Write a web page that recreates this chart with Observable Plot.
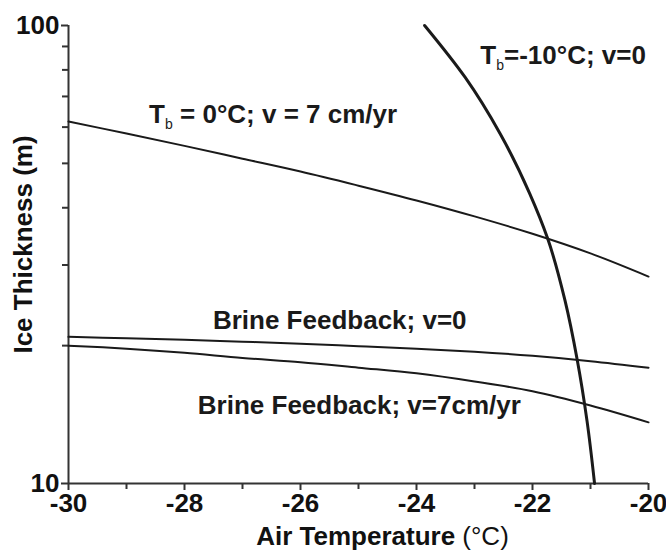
<!DOCTYPE html>
<html><head><meta charset="utf-8">
<script src="https://cdn.jsdelivr.net/npm/d3@7"></script>
<script src="https://cdn.jsdelivr.net/npm/@observablehq/plot@0.6"></script>
<style>body{margin:0;background:#fff}</style>
</head><body><div id="chart"></div>
<script>
// ---- data ----
const temps = [-30, -29, -28, -27, -26, -25, -24, -23, -22, -21, -20];
const thickTb0v7 = [61.7, 58.1, 54.6, 51.2, 48.0, 44.7, 41.5, 38.3, 35.1, 31.8, 28.3];
const thickBrineV0 = [20.9, 20.75, 20.6, 20.4, 20.2, 19.95, 19.7, 19.4, 19.0, 18.5, 17.9];
const thickBrineV7 = [20.0, 19.7, 19.3, 18.8, 18.4, 17.9, 17.4, 16.7, 15.9, 14.8, 13.6];
const tbm10Temps = [-23.86, -23.16, -22.56, -22.05, -21.74, -21.44, -21.23, -21.06, -20.93];
const tbm10Thick = [100, 77, 58.1, 43.0, 34.3, 25.1, 18.65, 13.7, 10];

const xMajorTicks = [-30, -28, -26, -24, -22, -20];
const xMinorTicks = [-29, -27, -25, -23, -21];
const yMajorTicks = [10, 100];
const yMinorTicks = [20, 30, 40, 50, 60, 70, 80, 90];

const labelText = ["T_b=-10°C; v=0", "T_b = 0°C; v = 7 cm/yr", "Brine Feedback; v=0", "Brine Feedback; v=7cm/yr"];
const labelTemp = [-22.90, -28.61, -27.51, -27.77];
const labelThick = [82.6, 61.1, 21.7, 14.15];

const xTitle = "Air Temperature (°C)";
const yTitle = "Ice Thickness (m)";

// ---- build tables ----
const toRows = (xs, ys) => xs.map((x, i) => ({x, y: ys[i]}));
const labels = labelText.map((t, i) => ({t, x: labelTemp[i], y: labelThick[i]}));
const font = "'Liberation Sans', Arial, sans-serif";
const ink = "#1a1a1a";
const axisInk = "#333";

const plot = Plot.plot({
  width: 666, height: 550,
  marginLeft: 68, marginRight: 18, marginTop: 25, marginBottom: 67,
  style: {fontFamily: font, background: "#fff", color: ink, overflow: "visible"},
  x: {domain: [-30, -20]},
  y: {type: "log", domain: [10, 100]},
  marks: [
    Plot.axisX({ticks: xMinorTicks, tickSize: 6, tickFormat: () => "", stroke: axisInk, strokeWidth: 2, label: null}),
    Plot.axisX({ticks: xMajorTicks, tickSize: 7, tickPadding: 3, tickFormat: d => String(d), stroke: axisInk, strokeWidth: 2,
                fill: "#111", fontSize: 26, fontWeight: "bold", label: null}),
    Plot.axisY({ticks: yMinorTicks, tickSize: 6, tickFormat: () => "", stroke: axisInk, strokeWidth: 2, label: null}),
    Plot.axisY({ticks: yMajorTicks, tickSize: 7, tickPadding: 2, tickFormat: d => String(d), stroke: axisInk, strokeWidth: 2,
                fill: "#111", fontSize: 26, fontWeight: "bold", label: null}),
    Plot.ruleX([-30], {stroke: axisInk, strokeWidth: 2}),
    Plot.ruleY([10], {stroke: axisInk, strokeWidth: 2}),
    Plot.line(toRows(temps, thickTb0v7), {x: "x", y: "y", stroke: ink, strokeWidth: 2, curve: "catmull-rom"}),
    Plot.line(toRows(temps, thickBrineV0), {x: "x", y: "y", stroke: ink, strokeWidth: 2, curve: "catmull-rom"}),
    Plot.line(toRows(temps, thickBrineV7), {x: "x", y: "y", stroke: ink, strokeWidth: 2, curve: "catmull-rom"}),
    Plot.line(toRows(tbm10Temps, tbm10Thick), {x: "x", y: "y", stroke: ink, strokeWidth: 3, curve: "monotone-y"}),
    Plot.text(labels, {x: "x", y: "y", text: "t", textAnchor: "start", lineAnchor: "bottom",
                       fontSize: 26, fontWeight: "bold", fill: ink}),
    Plot.text([xTitle], {text: d => d, frameAnchor: "bottom", textAnchor: "middle", lineAnchor: "bottom", dx: 24, dy: 61,
                         fontSize: 26, fontWeight: "bold", fill: "#111"}),
    Plot.text([yTitle], {text: d => d, frameAnchor: "left", textAnchor: "middle", rotate: -90, dx: -45, dy: -10,
                         fontSize: 26, fontWeight: "bold", fill: "#111"})
  ]
});

// subscripts and mixed weights, still real text
d3.select(plot).selectAll("text").each(function() {
  const t = this.textContent;
  const sel = d3.select(this);
  if (t.startsWith("T_b")) {
    const rest = t.slice(3);
    sel.text(null);
    sel.append("tspan").text("T");
    sel.append("tspan").attr("font-size", 14).attr("dy", 6).attr("font-weight", "normal").text("b");
    sel.append("tspan").attr("dy", -6).text(rest);
  } else if (t === xTitle) {
    const k = t.indexOf("(");
    sel.text(null);
    sel.append("tspan").text(t.slice(0, k));
    sel.append("tspan").attr("font-weight", "normal").text(t.slice(k));
  }
});

document.getElementById("chart").appendChild(plot);
</script>
</body></html>
